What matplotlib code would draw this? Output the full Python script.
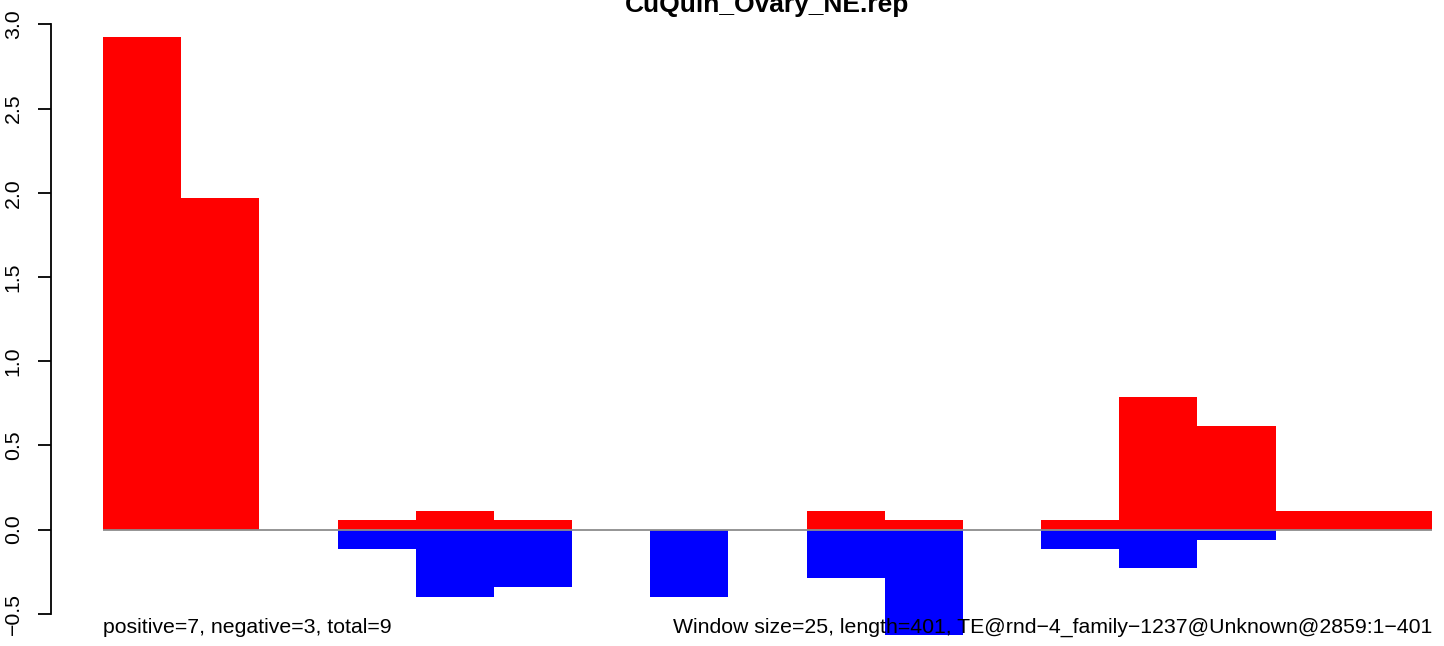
import numpy as np
import matplotlib.pyplot as plt

# window scores (17 windows of 25 bp)
pos_vals = [2.925, 1.97, 0.0, 0.059, 0.11, 0.059, 0.0, 0.0, 0.0,
            0.11, 0.059, 0.0, 0.059, 0.787, 0.615, 0.11, 0.11]
neg_vals = [0.0, 0.0, 0.0, -0.116, -0.40, -0.34, 0.0, -0.40, 0.0,
            -0.286, -0.627, 0.0, -0.116, -0.227, -0.062, 0.0, 0.0]
yticks = [-0.5, 0.0, 0.5, 1.0, 1.5, 2.0, 2.5, 3.0]

title = "CuQuin_Ovary_NE.rep"
left_note = "positive=7, negative=3, total=9"
right_note = "Window size=25, length=401, TE@rnd\u22124_family\u22121237@Unknown@2859:1\u2212401"

plt.rcParams['font.family'] = ['Liberation Sans', 'DejaVu Sans']

W, H = 1444, 646
fig = plt.figure(figsize=(W / 100, H / 100), dpi=100)
ax = fig.add_axes([51 / W, 0, (W - 51) / W, 1])

x = np.arange(len(pos_vals))
ax.bar(x, pos_vals, width=1.0, align='edge', color='#ff0000', linewidth=0)
ax.bar(x, neg_vals, width=1.0, align='edge', color='#0000ff', linewidth=0)
ax.hlines(0, 0, len(pos_vals), color='#8c8c8c', linewidth=1.3, zorder=3)

px_per_unit = 168.4
bar_w = (1432 - 103) / len(pos_vals)
ax.set_xlim((51 - 103) / bar_w, (W - 103) / bar_w)
ax.set_ylim(-(H - 529.5) / px_per_unit, 529.5 / px_per_unit)

for s in ['top', 'right', 'bottom']:
    ax.spines[s].set_visible(False)
ax.spines['left'].set_bounds(-0.5, 3.0)
ax.spines['left'].set_linewidth(1.3)
ax.set_xticks([])
ax.set_yticks(yticks)
ax.set_yticklabels([f"{v:.1f}".replace('-', '\u2212') for v in yticks],
                   rotation=90, va='center', fontsize=15.3)
ax.tick_params(axis='y', length=9.4, width=1.3, pad=11)

fig.text(767 / W, 1 - 12 / H, title, ha='center', va='baseline',
         fontsize=19, fontweight='bold')
fig.text(103 / W, (H - 633) / H, left_note, ha='left', va='baseline', fontsize=15.3)
fig.text(1432 / W, (H - 633) / H, right_note, ha='right', va='baseline', fontsize=15.3)

fig.savefig('out.png', dpi=100)
